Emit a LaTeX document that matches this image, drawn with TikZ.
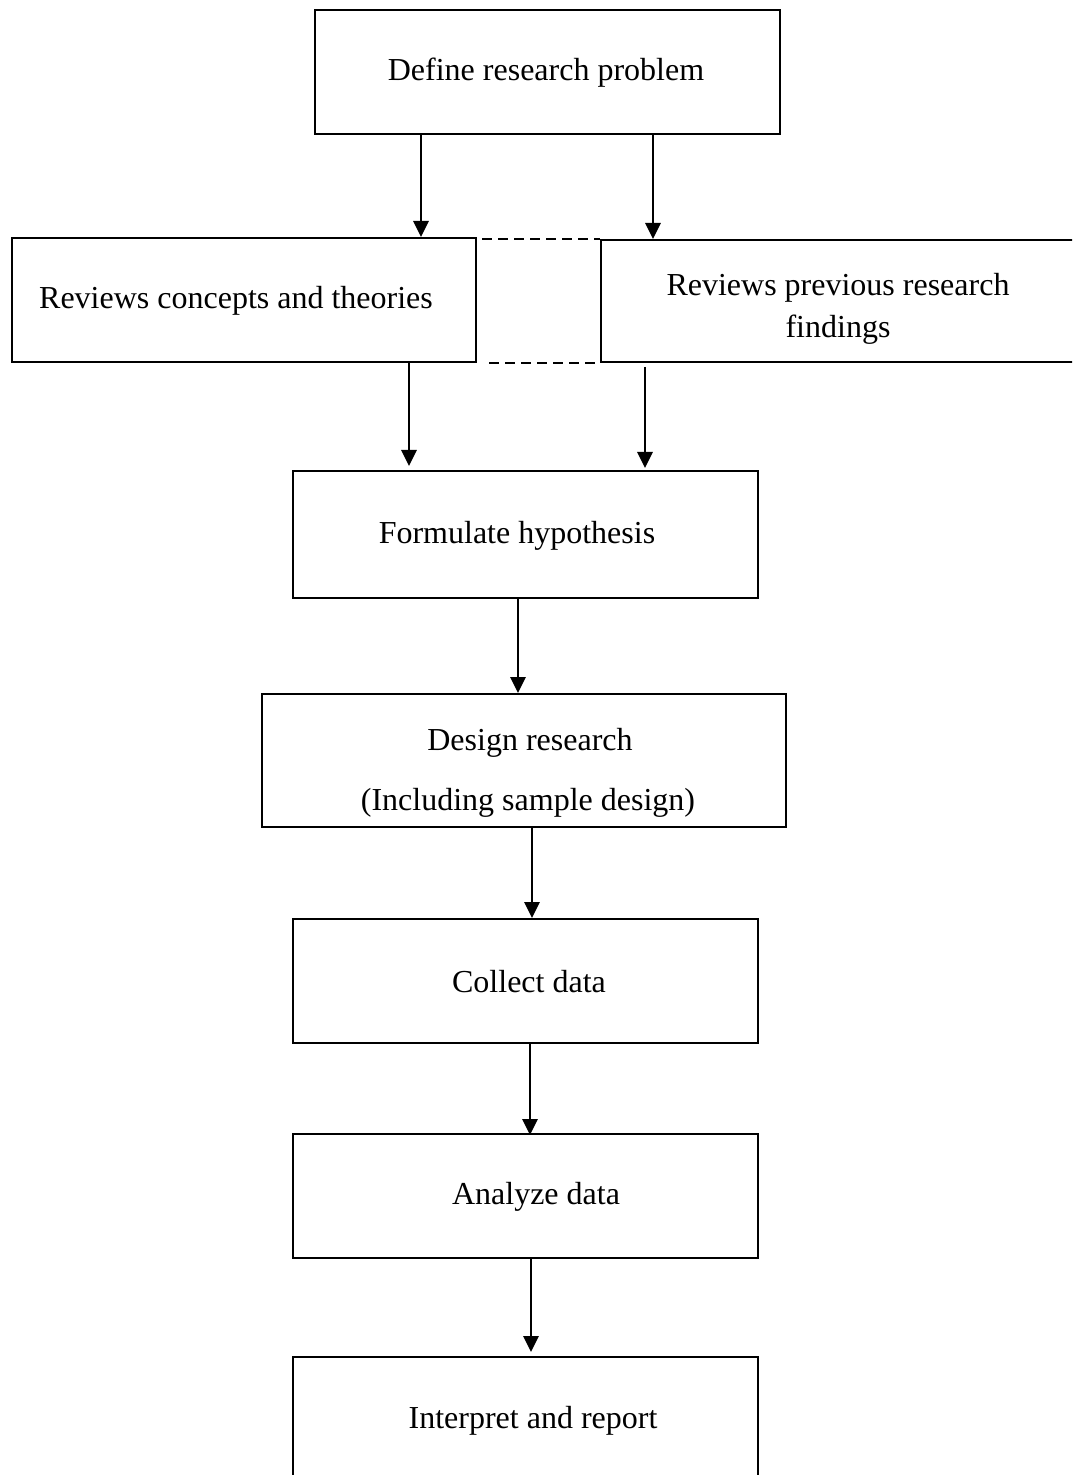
\documentclass[tikz,border=0pt]{standalone}
\usepackage{fontspec}
\setmainfont{Liberation Serif}
\usetikzlibrary{arrows.meta}
\begin{document}
\begin{tikzpicture}[x=0.5pt,y=-0.5pt,
  box/.style={draw, line width=1pt, rectangle, inner sep=0pt},
  lbl/.style={inner sep=0pt, font=\fontsize{16}{19}\selectfont},
  arr/.style={line width=1.4pt, -{Triangle[length=8pt,width=7.5pt]}},
  link/.style={line width=0.9pt, dash pattern=on 5pt off 3pt}]
\useasboundingbox (0,0) rectangle (1072,1475);
\clip (0,0) rectangle (1072,1475);

% boxes
\node[box, minimum width=465pt*0.5, minimum height=124pt*0.5, anchor=north west] (def) at (314,9) {};
\node[box, minimum width=464pt*0.5, minimum height=124pt*0.5, anchor=north west] (con) at (11,237) {};
\node[box, minimum width=500pt*0.5, minimum height=122pt*0.5, anchor=north west] (prev) at (600,239) {};
\node[box, minimum width=465pt*0.5, minimum height=127pt*0.5, anchor=north west] (hyp) at (292,470) {};
\node[box, minimum width=524pt*0.5, minimum height=133pt*0.5, anchor=north west] (des) at (261,693) {};
\node[box, minimum width=465pt*0.5, minimum height=124pt*0.5, anchor=north west] (col) at (292,918) {};
\node[box, minimum width=465pt*0.5, minimum height=124pt*0.5, anchor=north west] (ana) at (292,1133) {};
\node[box, minimum width=465pt*0.5, minimum height=150pt*0.5, anchor=north west] (int) at (292,1356) {};

% labels
\node[lbl] (tdef) at (546,73) {Define research problem};
\node[lbl] (tcon) at (236,301) {Reviews concepts and theories};
\node[lbl] (tprev1) at (838,288) {Reviews previous research};
\node[lbl] (tprev2) at (838,330) {findings};
\node[lbl] (thyp) at (517,536) {Formulate hypothesis};
\node[lbl] (tdes1) at (530,743) {Design research};
\node[lbl] (tdes2) at (528,803) {(Including sample design)};
\node[lbl] (tcol) at (529,982) {Collect data};
\node[lbl] (tana) at (536,1197) {Analyze data};
\node[lbl] (tint) at (533,1421) {Interpret and report};

% connector columns
\coordinate (x1) at (421,0);
\coordinate (x2) at (653,0);
\coordinate (x3) at (409,0);
\coordinate (x4) at (645,0);
\coordinate (x5) at (518,0);
\coordinate (x6) at (532,0);
\coordinate (x7) at (530,0);
\coordinate (x8) at (531,0);

% arrows
\draw[arr] (def.south -| x1) -- (con.north -| x1);
\draw[arr] (def.south -| x2) -- (prev.north -| x2);
\coordinate (h1) at (hyp.north -| x3);
\coordinate (h2) at (hyp.north -| x4);
\draw[arr] (con.south -| x3) -- ([yshift=2pt]h1);
\draw[arr] ([yshift=-2pt]prev.south -| x4) -- ([yshift=1pt]h2);
\draw[arr] (hyp.south -| x5) -- (des.north -| x5);
\draw[arr] (des.south -| x6) -- (col.north -| x6);
\draw[arr] (col.south -| x7) -- ([yshift=-1pt]ana.north -| x7);
\draw[arr] (ana.south -| x8) -- ([yshift=2pt]int.north -| x8);

% dashed links between the two review boxes
\draw[link] ([xshift=2.5pt]con.north east |- prev.north west) -- (prev.north west);
\draw[link] ([xshift=6pt]con.south east) -- (prev.south west);
\end{tikzpicture}
\end{document}
